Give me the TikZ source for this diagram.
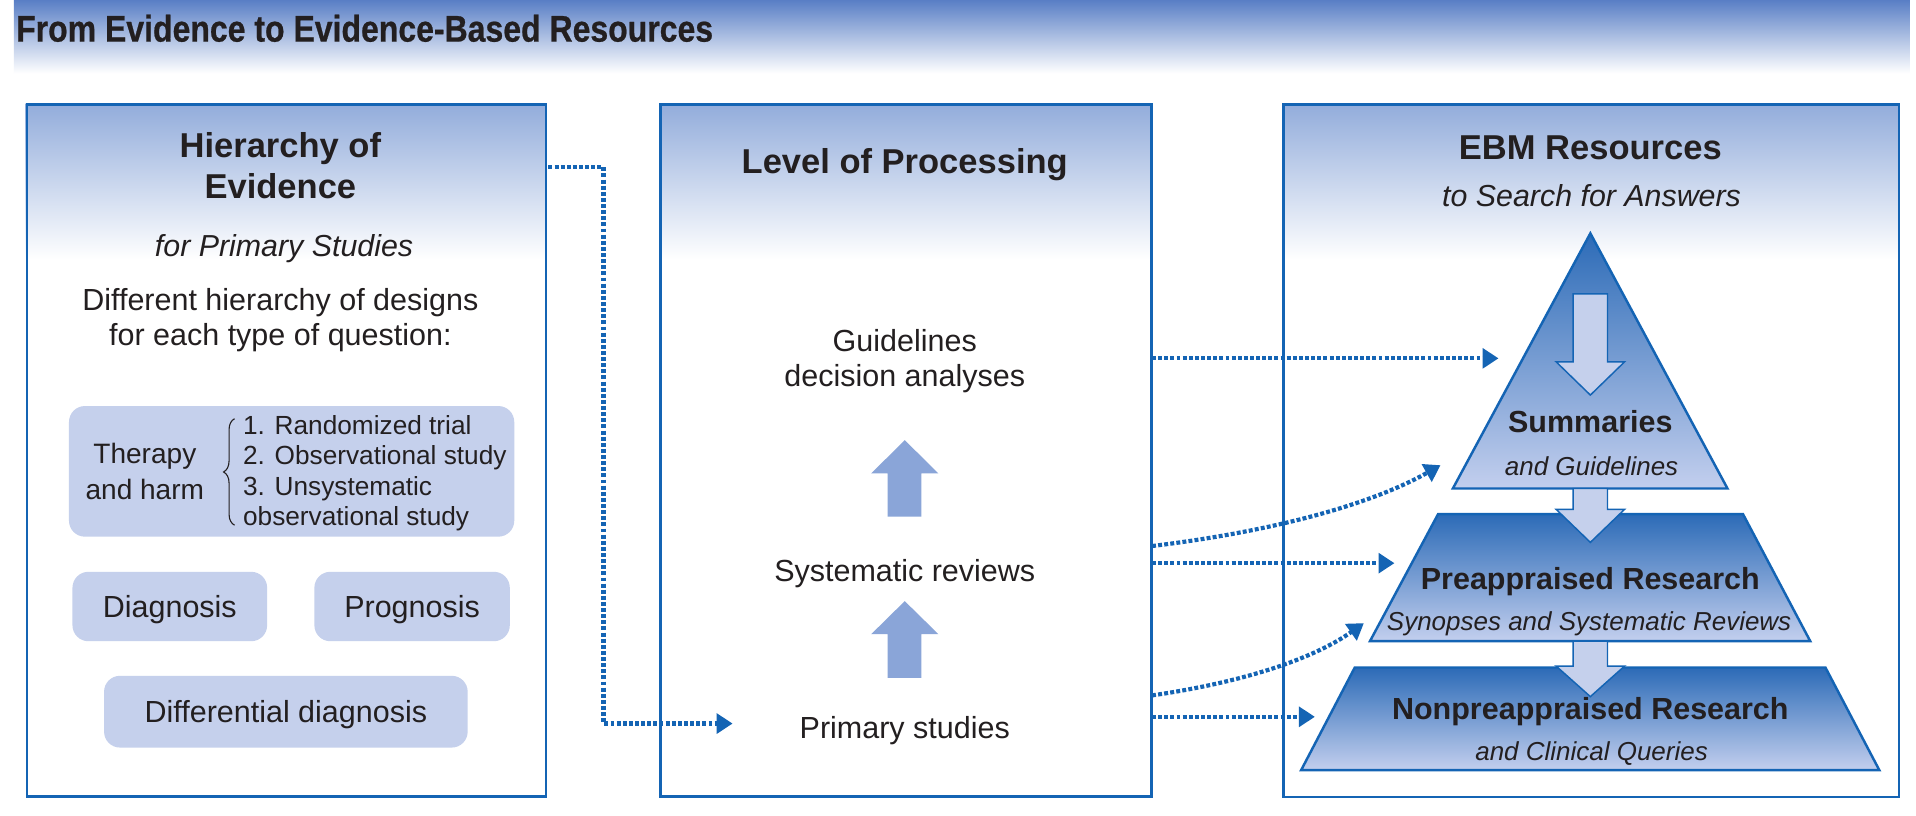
\documentclass[tikz,border=0pt]{standalone}
\usepackage{fontspec}
\setmainfont{Liberation Sans}
\newfontfamily\condfont[FakeStretch=0.86,FakeBold=0.6]{Liberation Sans}
\usetikzlibrary{arrows.meta,decorations.pathreplacing}
\definecolor{ebmblue}{HTML}{1464B4}
\definecolor{hdrblue}{HTML}{92ACDB}
\definecolor{boxfill}{HTML}{C5D0EC}
\definecolor{uparrow}{HTML}{8AA5D8}
\definecolor{pyrtop}{HTML}{2C6BB7}
\definecolor{pyrbot}{HTML}{C3CFEE}
\definecolor{titleblue}{HTML}{5B80C6}
\definecolor{ink}{HTML}{231F20}
\begin{document}
\begin{tikzpicture}[x=1bp,y=-1bp,
  panel/.style={draw=ebmblue, line width=2bp, inner sep=0pt},
  lbl/.style={text=ink, inner sep=0pt, align=center},
  body/.style={lbl, font=\fontsize{25}{29}\selectfont},
  headtxt/.style={lbl, font=\bfseries\fontsize{28.3}{34}\selectfont},
  subtxt/.style={lbl, font=\itshape\fontsize{24.9}{29}\selectfont},
  qbox/.style={fill=boxfill, rounded corners=13bp, inner sep=0pt},
  uparr/.style={fill=uparrow},
  dnarr/.style={fill=boxfill, draw=ebmblue, line width=1.2bp, line join=miter},
  tier/.style={top color=pyrtop, bottom color=pyrbot, draw=ebmblue, line width=2bp, line join=miter},
  conn/.style={draw=ebmblue, line width=3.4bp, dash pattern=on 3.2bp off 1.8bp, -{Triangle[length=13bp,width=16bp]}},
  tierhead/.style={lbl, font=\bfseries\fontsize{25}{30}\selectfont},
  tiersub/.style={lbl, font=\itshape\fontsize{21.3}{25}\selectfont},
]
\useasboundingbox (0,0) rectangle (1565,666.5);
\fill[white] (0,0) rectangle (1565,666.5);

% title band
\shade[top color=titleblue, bottom color=white] (11.4,0.8) rectangle (1560,60);
\node[anchor=base west, inner sep=0pt, text=ink, font=\condfont\bfseries\fontsize{30.5}{36}\selectfont] (title) at (13,34) {From Evidence to Evidence-Based Resources};

% panel gradients
\shade[top color=hdrblue, bottom color=white] (21,84.4) rectangle (445,212);
\shade[top color=hdrblue, bottom color=white] (538.5,84.4) rectangle (939.6,212);
\shade[top color=hdrblue, bottom color=white] (1047.5,84.4) rectangle (1550,212);

% panels
\node[panel, anchor=north west, minimum width=424bp, minimum height=565.1bp] (lp) at (21,84.4) {};
\node[panel, anchor=north west, minimum width=401.1bp, minimum height=565.1bp] (mp) at (538.5,84.4) {};
\node[panel, anchor=north west, minimum width=502.5bp, minimum height=565.6bp] (rp) at (1047.5,84.4) {};

% left panel content
\node[headtxt] (hoe) at (229,135.5) {Hierarchy of\\Evidence};
\node[subtxt] (fps) at (232,203.5) {for Primary Studies};
\node[body] (diff) at (229,261.5) {Different hierarchy of designs\\for each type of question:};

\node[qbox, minimum width=363.7bp, minimum height=106.7bp] (ther) at (238.2,385) {};
\node[lbl, font=\fontsize{23}{30}\selectfont] (thtxt) at (118.3,385) {Therapy\\and harm};
\draw[ink, line width=0.9bp, decorate, decoration={brace, amplitude=9bp, aspect=0.5}] (191.6,429) -- (191.6,342);
\node[lbl, align=left, anchor=west, font=\fontsize{21.5}{24.9}\selectfont] (list) at (198.4,386.5) {1. Randomized trial\\2. Observational study\\3. Unsystematic\\observational study};

\node[qbox, minimum width=159bp, minimum height=56.7bp] (diag) at (138.7,495.4) {};
\node[body] (diagt) at (138.7,498) {Diagnosis};
\node[qbox, minimum width=159.6bp, minimum height=56.7bp] (prog) at (336.6,495.4) {};
\node[body] (progt) at (336.6,498) {Prognosis};
\node[qbox, minimum width=297bp, minimum height=58.6bp] (ddx) at (233.5,581.3) {};
\node[body] (ddxt) at (233.5,584) {Differential diagnosis};

% middle panel content
\node[headtxt] (lop) at (739,134.5) {Level of Processing};
\node[body] (guide) at (739,295) {Guidelines\\decision analyses};
\node[body] (sysrev) at (739,468.5) {Systematic reviews};
\node[body] (prim) at (739,596.5) {Primary studies};
\path[uparr] (739,359.5) -- (766.5,386.7) -- (752.5,386.7) -- (752.5,422) -- (725,422) -- (725,386.7) -- (711.6,386.7) -- cycle;
\path[uparr] (739,491) -- (766.5,518) -- (752.5,518) -- (752.5,553.6) -- (725,553.6) -- (725,518) -- (711.6,518) -- cycle;

% right panel content
\node[headtxt] (ebm) at (1299,120.5) {EBM Resources};
\node[subtxt] (tsa) at (1300,159.5) {to Search for Answers};

\path[tier] (1299,190.6) -- (1411,399) -- (1186.7,399) -- cycle;
\path[tier] (1174.6,420) -- (1423.7,420) -- (1478.6,523.7) -- (1119,523.7) -- cycle;
\path[tier] (1106.6,545.2) -- (1491,545.2) -- (1535,629) -- (1062.8,629) -- cycle;

\path[dnarr] (1285,240) -- (1313,240) -- (1313,295.5) -- (1327,295.5) -- (1299,322.7) -- (1271,295.5) -- (1285,295.5) -- cycle;
\path[dnarr] (1285,399) -- (1313,399) -- (1313,416) -- (1327,416) -- (1299,443) -- (1271,416) -- (1285,416) -- cycle;
\path[dnarr] (1285,523.7) -- (1313,523.7) -- (1313,544) -- (1327,544) -- (1299,569) -- (1271,544) -- (1285,544) -- cycle;

\node[tierhead] (summ) at (1299,344) {Summaries};
\node[tiersub] (summs) at (1300,380.5) {and Guidelines};
\node[tierhead] (pre) at (1299,475.4) {Preappraised Research};
\node[tiersub] (pres) at (1298,509.5) {Synopses and Systematic Reviews};
\node[tierhead] (non) at (1299,581) {Nonpreappraised Research};
\node[tiersub] (nons) at (1300,615.7) {and Clinical Queries};

% connectors
\coordinate (c1s) at (448,136.7);
\coordinate (c1k) at (493,136.7);
\coordinate (c1e) at (598.4,591);
\coordinate (c2s) at (941,292.7);
\coordinate (c2e) at (1224,292.7);
\coordinate (c3s) at (941,446);
\coordinate (c3e) at (1176.6,380);
\coordinate (c4s) at (941,460);
\coordinate (c4e) at (1139,460);
\coordinate (c5s) at (941,568);
\coordinate (c5e) at (1114,509);
\coordinate (c6s) at (941,585.5);
\coordinate (c6e) at (1074,585.5);

\draw[conn] (c1s) -- (c1k) |- (c1e);
\draw[conn] (c2s) -- (c2e);
\draw[conn] (c3s) .. controls (1040,434) and (1120,412) .. (c3e);
\draw[conn] (c4s) -- (c4e);
\draw[conn] (c5s) .. controls (1010,558) and (1070,540) .. (c5e);
\draw[conn] (c6s) -- (c6e);
\end{tikzpicture}
\end{document}
